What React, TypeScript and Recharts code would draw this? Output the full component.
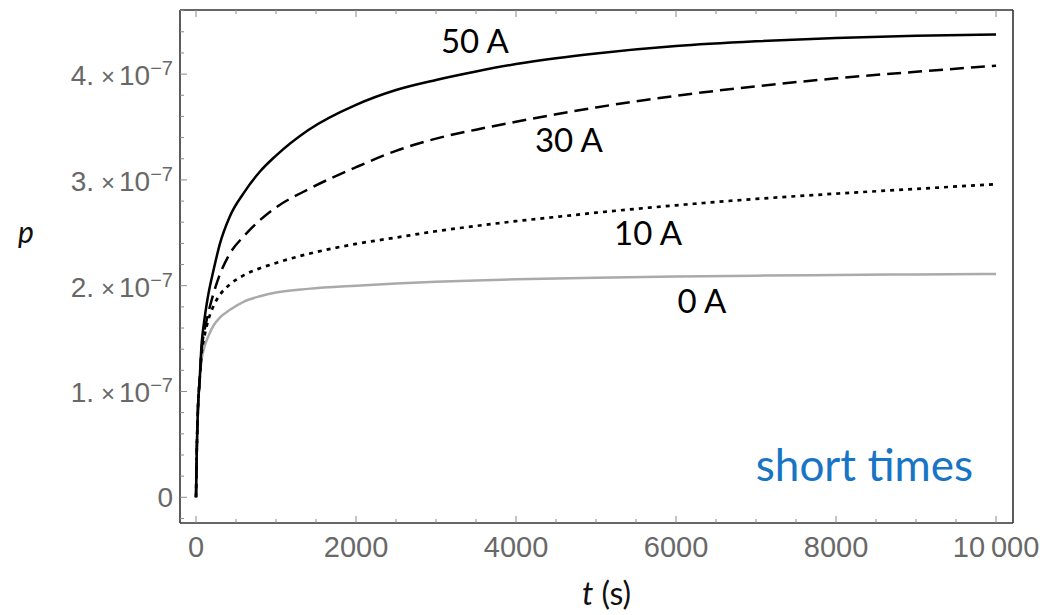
import { Line, LineChart, ReferenceDot, XAxis, YAxis } from "recharts";

// t in seconds, p in units of 1e-7
const times = [0, 10, 25, 45, 70, 100, 150, 220, 300, 420, 600, 800, 1000, 1400, 2000, 2500, 3000, 3500, 4000, 4500, 5000, 6000, 7000, 8000, 9000, 10000];
const p50 = [0, 0.45, 0.85, 1.1, 1.45, 1.65, 1.9, 2.15, 2.4, 2.65, 2.88, 3.08, 3.23, 3.47, 3.71, 3.85, 3.945, 4.025, 4.095, 4.15, 4.195, 4.265, 4.31, 4.342, 4.362, 4.375];
const p30 = [0, 0.45, 0.85, 1.1, 1.4, 1.55, 1.73, 1.93, 2.11, 2.3, 2.47, 2.62, 2.74, 2.91, 3.12, 3.275, 3.39, 3.475, 3.55, 3.62, 3.685, 3.795, 3.885, 3.96, 4.022, 4.08];
const p10 = [0, 0.45, 0.85, 1.1, 1.36, 1.5, 1.665, 1.81, 1.915, 2.01, 2.1, 2.165, 2.215, 2.3, 2.395, 2.455, 2.515, 2.565, 2.61, 2.65, 2.69, 2.76, 2.82, 2.87, 2.915, 2.96];
const p0 = [0, 0.45, 0.85, 1.1, 1.3, 1.41, 1.515, 1.625, 1.7, 1.77, 1.85, 1.9, 1.935, 1.97, 2.0, 2.02, 2.037, 2.05, 2.06, 2.068, 2.075, 2.086, 2.095, 2.101, 2.107, 2.111];

const xTicks = [0, 500, 1000, 1500, 2000, 2500, 3000, 3500, 4000, 4500, 5000, 5500, 6000, 6500, 7000, 7500, 8000, 8500, 9000, 9500, 10000];
const xLabels: Record<number, string> = { 0: "0", 2000: "2000", 4000: "4000", 6000: "6000", 8000: "8000", 10000: "10\u2009000" };
const yTicks = [-0.2, 0, 0.2, 0.4, 0.6, 0.8, 1, 1.2, 1.4, 1.6, 1.8, 2, 2.2, 2.4, 2.6, 2.8, 3, 3.2, 3.4, 3.6, 3.8, 4, 4.2, 4.4, 4.6];
const yLabels: Record<number, string> = { 0: "0", 1: "1.", 2: "2.", 3: "3.", 4: "4." };

// curve annotations, anchored in data units (t, p)
const notes = [
  { text: "50 A", t: 3487, p: 4.2 },
  { text: "30 A", t: 4662, p: 3.264 },
  { text: "10 A", t: 5650, p: 2.385 },
  { text: "0 A", t: 6325, p: 1.742 },
];

const rows = times.map((t, i) => ({ t, a50: p50[i], a30: p30[i], a10: p10[i], a0: p0[i] }));

const tickGray = "#8a8a8a";
const labelGray = "#686868";
const frame = { stroke: "#333", strokeWidth: 1.6 };
const numFont = "'Liberation Sans', Arial, sans-serif";
const textFont = "Lato, 'Open Sans', sans-serif";

const isMajor = (v: number) => Math.abs(v - Math.round(v)) < 1e-9;

function BottomTick({ x, y, payload }: any) {
  const lbl = xLabels[payload.value];
  return (
    <g>
      <line x1={x} x2={x} y1={y} y2={y - (lbl ? 7 : 4)} stroke={tickGray} />
      {lbl && (
        <text x={x} y={y + 34} textAnchor="middle" fill={labelGray} fontSize={29} fontFamily={numFont}>
          {lbl}
        </text>
      )}
    </g>
  );
}

function TopTick({ x, y, payload }: any) {
  const lbl = xLabels[payload.value];
  return <line x1={x} x2={x} y1={y} y2={y + (lbl ? 7 : 4)} stroke={tickGray} />;
}

function LeftTick({ x, y, payload }: any) {
  const v = payload.value;
  const major = isMajor(v);
  const lbl = major ? yLabels[Math.round(v)] : undefined;
  return (
    <g>
      <line x1={x} x2={x + (major ? 7 : 4)} y1={y} y2={y} stroke={tickGray} />
      {lbl === "0" && (
        <text x={x - 7} y={y + 10} textAnchor="end" fill={labelGray} fontSize={28} fontFamily={numFont}>
          0
        </text>
      )}
      {lbl && lbl !== "0" && (
        <text x={x - 7} y={y + 11} textAnchor="end" fill={labelGray} fontSize={28} fontFamily={numFont}>
          {lbl}
          <tspan dx={7} fontSize={24}>
            {"\u00d7"}
          </tspan>
          <tspan dx={4}>{"10"}</tspan>
          <tspan fontSize={20} dy={-10}>
            {"\u22127"}
          </tspan>
        </text>
      )}
    </g>
  );
}

function RightTick({ x, y, payload }: any) {
  const major = isMajor(payload.value);
  return <line x1={x} x2={x - (major ? 7 : 4)} y1={y} y2={y} stroke={tickGray} />;
}

function TimeTitle({ viewBox }: any) {
  return (
    <text x={viewBox.x + viewBox.width / 2 + 10} y={viewBox.y + 82} textAnchor="middle" fill="#111" fontSize={32} fontFamily={textFont}>
      <tspan fontStyle="italic">t</tspan>
      <tspan> (s)</tspan>
    </text>
  );
}

function PTitle({ viewBox }: any) {
  return (
    <text x={26} y={viewBox.y + 233} textAnchor="middle" fill="#111" fontSize={30} fontStyle="italic" fontFamily={textFont}>
      p
    </text>
  );
}

function NoteText(text: string, anchor: "middle" | "end", size: number, color: string) {
  return ({ viewBox }: any) => (
    <text
      x={viewBox.x + viewBox.width / 2}
      y={viewBox.y + viewBox.height / 2}
      textAnchor={anchor}
      fill={color}
      fontSize={size}
      fontFamily={textFont}
    >
      {text}
    </text>
  );
}

export default function App() {
  return (
    <div style={{ position: "absolute", left: 0, top: 0, width: 1045, height: 615, background: "#fff" }}>
      <LineChart width={1045} height={615} data={rows} margin={{ top: 9, right: 31, bottom: 0, left: 0 }}>
        <XAxis
          xAxisId="b"
          dataKey="t"
          type="number"
          domain={[-200, 10212]}
          ticks={xTicks}
          interval={0}
          height={92}
          tickSize={0}
          tickMargin={0}
          tickLine={false}
          axisLine={frame}
          tick={<BottomTick />}
          label={{ content: <TimeTitle /> }}
        />
        <XAxis
          xAxisId="t"
          orientation="top"
          dataKey="t"
          type="number"
          domain={[-200, 10212]}
          ticks={xTicks}
          interval={0}
          height={1}
          tickSize={0}
          tickMargin={0}
          tickLine={false}
          axisLine={frame}
          tick={<TopTick />}
        />
        <YAxis
          yAxisId="l"
          type="number"
          domain={[-0.243, 4.606]}
          ticks={yTicks}
          interval={0}
          width={180}
          tickSize={0}
          tickMargin={0}
          tickLine={false}
          axisLine={frame}
          tick={<LeftTick />}
          label={{ content: <PTitle /> }}
        />
        <YAxis
          yAxisId="r"
          orientation="right"
          type="number"
          domain={[-0.243, 4.606]}
          ticks={yTicks}
          interval={0}
          width={1}
          tickSize={0}
          tickMargin={0}
          tickLine={false}
          axisLine={frame}
          tick={<RightTick />}
        />
        <Line xAxisId="b" yAxisId="l" dataKey="a0" type="monotone" stroke="#aaaaaa" strokeWidth={2.5} dot={false} isAnimationActive={false} />
        <Line xAxisId="b" yAxisId="l" dataKey="a10" type="monotone" stroke="#000" strokeWidth={2.7} strokeDasharray="4 5" dot={false} isAnimationActive={false} />
        <Line xAxisId="b" yAxisId="l" dataKey="a30" type="monotone" stroke="#000" strokeWidth={2.5} strokeDasharray="14 7" dot={false} isAnimationActive={false} />
        <Line xAxisId="b" yAxisId="l" dataKey="a50" type="monotone" stroke="#000" strokeWidth={2.5} dot={false} isAnimationActive={false} />
        {notes.map((n) => (
          <ReferenceDot
            key={n.text}
            xAxisId="b"
            yAxisId="l"
            x={n.t}
            y={n.p}
            r={1}
            fill="none"
            stroke="none"
            label={{ content: NoteText(n.text, "middle", 33, "#000") }}
          />
        ))}
        <ReferenceDot
          xAxisId="b"
          yAxisId="l"
          x={9712}
          y={0.154}
          r={1}
          fill="none"
          stroke="none"
          label={{ content: NoteText("short times", "end", 44, "#1874c4") }}
        />
      </LineChart>
    </div>
  );
}
